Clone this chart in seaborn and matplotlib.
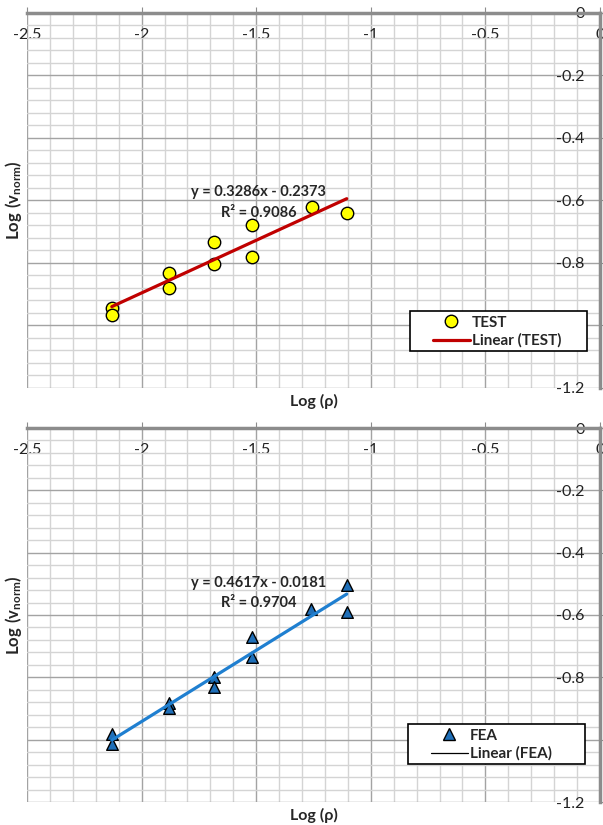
import numpy as np
import pandas as pd
import matplotlib
matplotlib.use("Agg")
import matplotlib.pyplot as plt
from matplotlib.lines import Line2D
from matplotlib.patches import Rectangle
from matplotlib.ticker import MultipleLocator
import seaborn as sns

# TEST data (log rho, log v_norm)
test_x = [-2.13, -2.13, -1.88, -1.88, -1.683, -1.683, -1.52, -1.52, -1.258, -1.105]
test_y = [-0.945, -0.966, -0.831, -0.879, -0.732, -0.804, -0.678, -0.780, -0.622, -0.639]

# FEA data
fea_x = [-2.13, -2.13, -1.88, -1.88, -1.683, -1.683, -1.52, -1.52, -1.262, -1.105, -1.105]
fea_y = [-0.982, -1.015, -0.882, -0.898, -0.799, -0.831, -0.672, -0.735, -0.580, -0.503, -0.589]

test_eq = "y = 0.3286x - 0.2373"
test_r2 = "R² = 0.9086"
fea_eq = "y = 0.4617x - 0.0181"
fea_r2 = "R² = 0.9704"

x_ticks = [-2.5, -2, -1.5, -1, -0.5, 0]
x_labels = ["-2.5", "-2", "-1.5", "-1", "-0.5", "0"]
y_ticks = [0, -0.2, -0.4, -0.6, -0.8, -1.0, -1.2]
y_labels = ["0", "-0.2", "-0.4", "-0.6", "-0.8", "", "-1.2"]

sns.set_style("white")
plt.rcParams["font.family"] = ["Lato", "DejaVu Sans"]
plt.rcParams["mathtext.fontset"] = "custom"
plt.rcParams["mathtext.rm"] = "Lato"
plt.rcParams["mathtext.bf"] = "Lato:bold"

df_test = pd.DataFrame({"x": test_x, "y": test_y})
df_fea = pd.DataFrame({"x": fea_x, "y": fea_y})

fig = plt.figure(figsize=(6.03, 8.25), dpi=100)
ax1 = fig.add_axes([27 / 603, 1 - 388 / 825, 573 / 603, 375 / 825])
ax2 = fig.add_axes([27 / 603, 1 - 802 / 825, 573 / 603, 374 / 825])

axis_grey = "#8c8c8c"


def style_axes(ax):
    ax.set_xlim(-2.5, 0)
    ax.set_ylim(-1.2, 0)
    ax.set_xticks(x_ticks)
    ax.set_xticklabels(x_labels)
    ax.set_yticks(y_ticks)
    ax.set_yticklabels(y_labels)
    ax.xaxis.set_minor_locator(MultipleLocator(0.1))
    ax.yaxis.set_minor_locator(MultipleLocator(0.04))
    ax.grid(True, which="major", color="#a3a3a3", lw=1)
    ax.grid(True, which="minor", color="#d4d4d4", lw=1)
    ax.set_axisbelow(True)
    ax.xaxis.set_ticks_position("top")
    ax.yaxis.set_ticks_position("right")
    ax.xaxis.set_label_position("bottom")
    ax.yaxis.set_label_position("left")
    ax.tick_params(axis="x", which="major", direction="out", length=4, color=axis_grey,
                   pad=-25, labelsize=11.5, labelcolor="#222222")
    ax.tick_params(axis="y", which="major", direction="out", length=4, color=axis_grey,
                   pad=-15, labelsize=11.5, labelcolor="#222222")
    ax.tick_params(which="minor", length=0)
    plt.setp(ax.get_yticklabels(), ha="right")
    for s in ["left", "bottom"]:
        ax.spines[s].set_visible(False)
    for s in ["top", "right"]:
        ax.spines[s].set_color(axis_grey)
        ax.spines[s].set_linewidth(2.5)


def legend_box(ax, handles, labels, x_hand, y_top, rect):
    leg = ax.legend(handles, labels, loc="upper left", bbox_to_anchor=(x_hand, y_top),
                    frameon=False, prop={"weight": "bold", "size": 11},
                    handlelength=2.4, handletextpad=0.15, borderpad=0,
                    borderaxespad=0, labelspacing=0.25)
    ax.add_patch(Rectangle(rect[:2], rect[2], rect[3], transform=ax.transAxes,
                           facecolor="white", edgecolor="black", lw=1.2, zorder=5))
    leg.set_zorder(6)
    return leg


# top chart: TEST
style_axes(ax1)
sns.scatterplot(data=df_test, x="x", y="y", ax=ax1, marker="o", s=80,
                color="#ffff00", edgecolor="black", linewidth=1, zorder=3)
sns.regplot(data=df_test, x="x", y="y", ax=ax1, scatter=False, ci=None,
            line_kws={"color": "#c00000", "lw": 2.3, "zorder": 4})
ax1.set_xlabel("Log (ρ)", fontsize=11.5, fontweight="bold", labelpad=4)
ax1.set_ylabel(r"$\mathbf{Log\ (v_{norm})}$", fontsize=12, labelpad=2)
ax1.text(-1.49, -0.573, test_eq, ha="center", va="center", fontsize=10.5, fontweight="bold")
ax1.text(-1.49, -0.640, test_r2, ha="center", va="center", fontsize=10.5, fontweight="bold")
h1 = [Line2D([], [], ls="none", marker="o", ms=9, mfc="#ffff00", mec="black"),
      Line2D([], [], color="#c00000", lw=2.3)]
legend_box(ax1, h1, ["TEST", "Linear (TEST)"], 0.7086, 0.193,
           (0.6684, 0.0987, 0.3089, 0.1067))

# bottom chart: FEA
style_axes(ax2)
sns.scatterplot(data=df_fea, x="x", y="y", ax=ax2, marker="^", s=70,
                color="#1f6fb8", edgecolor="black", linewidth=1, zorder=3)
sns.regplot(data=df_fea, x="x", y="y", ax=ax2, scatter=False, ci=None,
            line_kws={"color": "#1f7fd0", "lw": 2.3, "zorder": 4})
ax2.set_xlabel("Log (ρ)", fontsize=11.5, fontweight="bold", labelpad=4)
ax2.set_ylabel(r"$\mathbf{Log\ (v_{norm})}$", fontsize=12, labelpad=2)
ax2.text(-1.49, -0.497, fea_eq, ha="center", va="center", fontsize=10.5, fontweight="bold")
ax2.text(-1.49, -0.561, fea_r2, ha="center", va="center", fontsize=10.5, fontweight="bold")
h2 = [Line2D([], [], ls="none", marker="^", ms=8.5, mfc="#1f6fb8", mec="black"),
      Line2D([], [], color="black", lw=0.9)]
legend_box(ax2, h2, ["FEA", "Linear (FEA)"], 0.7051, 0.196,
           (0.6649, 0.1016, 0.3089, 0.107))

fig.savefig("out.png", dpi=100)
